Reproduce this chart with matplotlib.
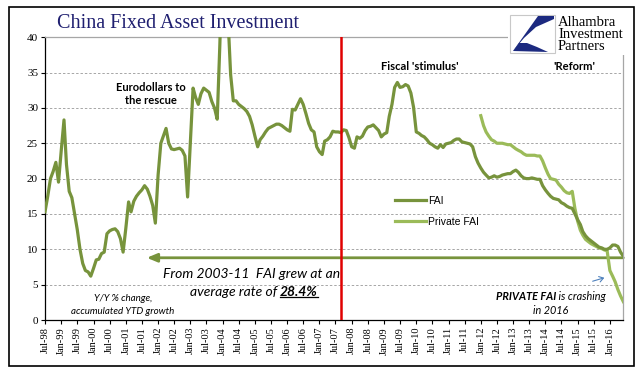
import matplotlib
matplotlib.use('Agg')
import matplotlib.pyplot as plt
import matplotlib.dates as mdates
from matplotlib.patches import Rectangle, Polygon, FancyArrowPatch
from matplotlib.lines import Line2D
import pandas as pd

# ============================================================================
# Data (Y/Y % change, accumulated YTD growth), monthly Jul-98 .. Jun-16
# ============================================================================
fai = (
    [15.3, 17.5, 20.0, 21.0, 22.3, 19.5] +                                          # 1998 H2
    [24.0, 28.3, 22.0, 18.2, 17.3, 15.0, 12.8, 10.0, 8.0, 7.0, 6.8, 6.2] +           # 1999
    [7.3, 8.5, 8.6, 9.4, 9.6, 12.2, 12.6, 12.8, 12.9, 12.5, 11.5, 9.6] +             # 2000
    [13.0, 16.7, 15.3, 16.8, 17.5, 18.0, 18.4, 19.0, 18.5, 17.5, 16.2, 13.7] +       # 2001
    [20.5, 25.0, 26.0, 27.1, 25.0, 24.2, 24.1, 24.2, 24.3, 24.0, 23.2, 17.4] +       # 2002
    [25.0, 32.8, 31.5, 30.5, 32.0, 32.8, 32.5, 32.2, 30.9, 30.0, 28.4, 39.0] +       # 2003
    [53.0, 47.8, 43.0, 34.7, 31.0, 31.0, 30.5, 30.2, 29.9, 29.5, 28.8, 27.6] +       # 2004
    [26.0, 24.5, 25.5, 26.0, 26.6, 27.1, 27.3, 27.5, 27.7, 27.7, 27.5, 27.2] +       # 2005
    [26.9, 26.7, 29.8, 29.7, 30.5, 31.3, 30.5, 29.2, 27.8, 26.9, 26.6, 24.5] +       # 2006
    [23.8, 23.4, 25.3, 25.5, 25.9, 26.7, 26.6, 26.6, 26.5, 26.9, 26.8, 25.8] +       # 2007
    [24.5, 24.3, 25.9, 25.7, 26.0, 26.8, 27.3, 27.4, 27.6, 27.2, 26.8, 25.9] +       # 2008
    [26.3, 26.5, 28.8, 30.5, 32.9, 33.6, 32.9, 33.0, 33.3, 33.1, 32.1, 30.1] +       # 2009
    [26.6, 26.4, 26.1, 25.9, 25.5, 25.0, 24.8, 24.5, 24.3, 24.8, 24.4, 24.9] +       # 2010
    [25.0, 25.1, 25.4, 25.6, 25.6, 25.2, 25.1, 25.0, 24.9, 24.5, 23.1, 22.2] +       # 2011
    [21.5, 20.9, 20.5, 20.1, 20.2, 20.4, 20.2, 20.3, 20.5, 20.6, 20.7, 20.7] +       # 2012
    [21.0, 21.2, 20.9, 20.4, 20.1, 20.0, 20.0, 20.1, 20.0, 19.9, 19.9, 19.0] +       # 2013
    [18.4, 17.9, 17.5, 17.2, 17.1, 17.0, 16.6, 16.4, 16.1, 15.9, 15.8, 15.0] +       # 2014
    [14.2, 13.5, 12.5, 11.9, 11.5, 11.2, 10.9, 10.6, 10.3, 10.2, 10.0, 10.0] +       # 2015
    [10.2, 10.6, 10.6, 10.4, 9.6, 9.0]                                               # 2016 H1
)

# Private FAI, monthly Jan-12 .. Jun-16
private_fai = (
    [28.9, 27.5, 26.6, 26.0, 25.5, 25.3, 25.0, 25.0, 25.0, 24.9, 24.8, 24.8] +       # 2012
    [24.5, 24.2, 24.0, 23.8, 23.5, 23.3, 23.3, 23.3, 23.3, 23.2, 23.2, 22.5] +       # 2013
    [21.5, 20.6, 20.0, 19.9, 19.8, 19.2, 18.8, 18.3, 18.0, 17.9, 18.2, 15.8] +       # 2014
    [14.0, 12.7, 12.0, 11.4, 11.1, 10.8, 10.6, 10.4, 10.2, 10.1, 9.9, 9.8] +         # 2015
    [7.0, 6.2, 5.4, 4.3, 3.4, 2.6]                                                   # 2016 H1
)

dates = pd.date_range('1998-07-01', periods=len(fai), freq='MS')
private_dates = pd.date_range('2012-01-01', periods=len(private_fai), freq='MS')
tick_dates = pd.date_range('1998-07-01', '2016-01-01', freq='6MS')
break_date = pd.Timestamp('2007-09-01')
avg_line = 8.8

FAI_COLOR = '#77933C'
PRIV_COLOR = '#9BBB59'
W, H = 641, 382


def px(x, y):
    """pixel position -> figure fraction"""
    return x / W, 1 - y / H


# ============================================================================
# Figure
# ============================================================================
fig = plt.figure(figsize=(W / 100, H / 100), dpi=100)
ax = fig.add_axes([45 / W, (H - 320) / H, (623.3 - 45) / W, (320 - 37.2) / H])

ax.plot(dates, fai, color=FAI_COLOR, lw=2.3, label='FAI', solid_joinstyle='round', zorder=4)
ax.plot(private_dates, private_fai, color=PRIV_COLOR, lw=2.3, label='Private FAI',
        solid_joinstyle='round', zorder=3)

ax.axvline(break_date, color='#E00000', lw=1.8, zorder=5)

ax.set_xlim(dates[0], dates[-1])
ax.set_ylim(0, 40)
ax.set_yticks(range(0, 41, 5))
ax.set_xticks(tick_dates)
ax.xaxis.set_major_formatter(mdates.DateFormatter('%b-%y'))
for lab in ax.get_xticklabels():
    lab.set_rotation(90)
    lab.set_family('Liberation Serif')
    lab.set_fontsize(7.5)
for lab in ax.get_yticklabels():
    lab.set_family('Liberation Serif')
    lab.set_fontsize(8)
ax.tick_params(axis='both', direction='out', length=3, width=0.8, pad=2, color='black')

ax.grid(True, axis='y', linestyle=(0, (2.5, 2)), color='#A6A6A6', lw=0.7)
ax.set_axisbelow(True)
for side in ['left', 'bottom']:
    ax.spines[side].set_color('black')
    ax.spines[side].set_linewidth(0.9)
for side in ['top', 'right']:
    ax.spines[side].set_color('#A6A6A6')
    ax.spines[side].set_linewidth(0.9)

# average growth arrow
ax.annotate('', xy=(0.176, avg_line), xycoords=('axes fraction', 'data'),
            xytext=(1.0, avg_line), textcoords=('axes fraction', 'data'),
            arrowprops=dict(arrowstyle='-|>,head_length=0.6,head_width=0.25',
                            color=FAI_COLOR, lw=2.0, shrinkA=0, shrinkB=0),
            zorder=2)

# legend
ax.legend(loc='upper left', bbox_to_anchor=(0.605, 0.44), frameon=False,
          prop={'family': 'Liberation Sans', 'size': 7.5},
          handlelength=3.0, handletextpad=0.2, labelspacing=1.05,
          borderpad=0, borderaxespad=0)

# ============================================================================
# Texts
# ============================================================================
fig.text(*px(178, 23), 'China Fixed Asset Investment', family='Liberation Serif',
         fontsize=14.5, color='#1F1F70', ha='center', va='center')

fig.text(*px(151, 94), 'Eurodollars to\nthe rescue', family='Lato', weight='bold',
         fontsize=8, ha='center', va='center', linespacing=1.3)
fig.text(*px(420, 66), "Fiscal 'stimulus'", family='Lato', weight='bold',
         fontsize=8, ha='center', va='center')
fig.text(*px(574, 66), "'Reform'", family='Lato', weight='bold',
         fontsize=8, ha='center', va='center')

fig.text(*px(252, 274), 'From 2003-11  FAI grew at an', family='Lato', style='italic',
         fontsize=10, ha='center', va='center')
fig.text(*px(280, 292), 'average rate of ', family='Lato', style='italic',
         fontsize=10, ha='right', va='center')
rate_txt = fig.text(*px(280, 292), '28.4%', family='Lato', style='italic', weight='bold',
                    fontsize=10, ha='left', va='center')

fig.text(*px(123, 305), 'Y/Y % change,\naccumulated YTD growth', family='Lato',
         style='italic', fontsize=7, ha='center', va='center', linespacing=1.45)

fig.text(*px(556, 297), 'PRIVATE FAI', family='Lato', style='italic', weight='bold',
         fontsize=7.8, ha='right', va='center')
fig.text(*px(556, 297), ' is crashing', family='Lato', style='italic',
         fontsize=7.8, ha='left', va='center')
fig.text(*px(551, 311), 'in 2016', family='Lato', style='italic', fontsize=7.8,
         ha='center', va='center')

# small blue arrow towards private FAI drop
fig.add_artist(FancyArrowPatch(
    px(590, 282), px(607, 277), transform=fig.transFigure,
    arrowstyle='->,head_length=3,head_width=2', color='#4F81BD', lw=0.8))

# ============================================================================
# Logo
# ============================================================================
fig.add_artist(Rectangle(px(508, 55), 126 / W, 44 / H, transform=fig.transFigure,
                         facecolor='white', edgecolor='none', zorder=6))
fig.add_artist(Rectangle(px(510, 53), 45 / W, 38 / H, transform=fig.transFigure,
                         facecolor='white', edgecolor='#C8C8C8', lw=0.8, zorder=7))
upper = [px(538, 16), px(554, 16), px(554, 19), px(536, 27), px(524, 38), px(513, 51)]
lower = [px(513, 51), px(548, 52), px(537, 47), px(527, 43), px(519, 43)]
for pts in (upper, lower):
    fig.add_artist(Polygon(pts, closed=True, transform=fig.transFigure,
                           facecolor='#1C2A80', edgecolor='none', zorder=8))
for i, word in enumerate(['Alhambra', 'Investment', 'Partners']):
    fig.text(*px(558, 22 + 12.3 * i), word, family='Liberation Serif', fontsize=10.5,
             ha='left', va='center', zorder=9)

# outer frame
fig.add_artist(Rectangle(px(9, 366), 625 / W, 359 / H, transform=fig.transFigure,
                         facecolor='none', edgecolor='black', lw=1.2, zorder=10))

# underline for the 28.4% figure
fig.canvas.draw()
bb = rate_txt.get_window_extent().transformed(fig.transFigure.inverted())
fig.add_artist(Line2D([bb.x0, bb.x1], [bb.y0 + 0.003, bb.y0 + 0.003],
                      transform=fig.transFigure, color='black', lw=0.9))

plt.savefig('out.png', dpi=100)
